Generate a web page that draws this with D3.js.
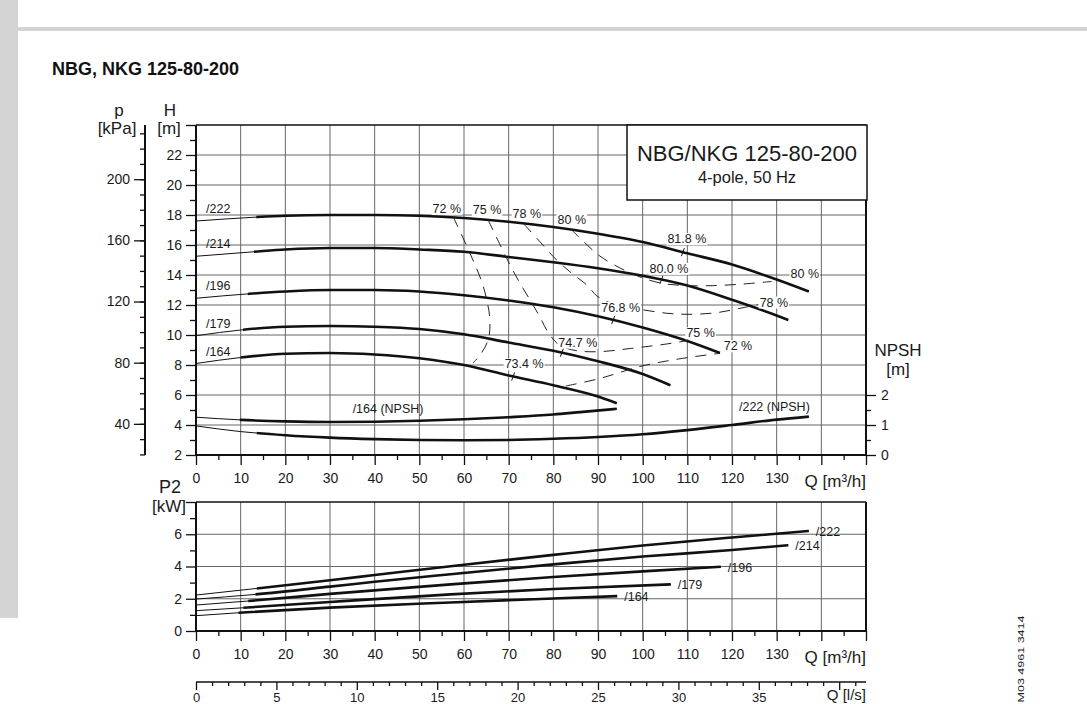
<!DOCTYPE html>
<html>
<head>
<meta charset="utf-8">
<script src="https://cdn.jsdelivr.net/npm/d3@7"></script>
<style>
  body { margin: 0; background: #fff; }
  svg { display: block; font-family: "Liberation Sans", Arial, sans-serif; }
</style>
</head>
<body>
<svg id="chart" width="1087" height="704"></svg>
<script>
// ---- data ----
const impellers = ["/222", "/214", "/196", "/179", "/164"];

// H [m] against Q [m3/h]
const head222 = [[0,17.6],[13,17.85],[20,17.95],[30,18.0],[40,18.0],[50,17.95],[60,17.8],[70,17.55],[80,17.2],[90,16.75],[100,16.2],[110,15.45],[120,14.7],[130,13.7],[137.2,12.9]];
const head214 = [[0,15.25],[13,15.55],[20,15.7],[30,15.8],[40,15.8],[50,15.7],[60,15.55],[70,15.2],[80,14.85],[90,14.45],[100,13.95],[110,13.3],[120,12.35],[130,11.3],[132.6,11.0]];
const head196 = [[0,12.45],[12,12.75],[20,12.9],[30,13.0],[40,13.0],[50,12.9],[60,12.65],[70,12.3],[80,11.85],[90,11.25],[100,10.5],[110,9.6],[117.3,8.8]];
const head179 = [[0,9.95],[10.5,10.35],[20,10.55],[30,10.6],[40,10.55],[50,10.4],[60,10.05],[70,9.5],[80,8.95],[90,8.25],[100,7.4],[106.2,6.65]];
const head164 = [[0,8.1],[10,8.5],[20,8.75],[30,8.8],[40,8.7],[50,8.45],[60,8.0],[70,7.3],[80,6.65],[90,5.9],[94.2,5.45]];
const headThickFrom = [13.5, 13, 11.6, 10.5, 10];

// NPSH [m]
const npshNames = ["/164 (NPSH)", "/222 (NPSH)"];
const npsh164 = [[0,1.26],[10,1.17],[20,1.12],[30,1.10],[40,1.11],[50,1.14],[60,1.19],[70,1.26],[80,1.35],[86,1.43],[94.2,1.54]];
const npsh222 = [[0,0.97],[10,0.78],[20,0.66],[30,0.58],[40,0.53],[50,0.5],[60,0.49],[70,0.5],[80,0.54],[90,0.6],[100,0.69],[110,0.83],[120,1.0],[130,1.18],[137.2,1.28]];
const npshThickFrom = [9.8, 13.6];

// P2 [kW]
const power222 = [[0,2.23],[13.6,2.64],[30,3.15],[40,3.47],[59,4.08],[80,4.72],[100,5.3],[120,5.8],[137.2,6.2]];
const power214 = [[0,1.98],[13.3,2.27],[30,2.75],[40,3.05],[57,3.52],[80,4.13],[100,4.62],[120,5.02],[132.6,5.32]];
const power196 = [[0,1.61],[11.7,1.86],[30,2.3],[57,2.89],[80,3.35],[100,3.7],[117.5,3.98]];
const power179 = [[0,1.26],[10.6,1.44],[30,1.8],[57,2.27],[80,2.6],[106.3,2.89]];
const power164 = [[0,0.95],[9.5,1.13],[30,1.45],[57,1.77],[80,2.02],[94.3,2.16]];
const powerThickFrom = [13.6, 13.3, 11.7, 10.6, 9.5];

// iso-efficiency lines (Q, H)
const eff72a = [[57.6,17.87],[60.0,16.33],[62.1,14.93],[64.0,13.53],[65.1,12.33],[65.8,11.0],[65.4,9.67],[63.6,8.67],[62.0,8.13]];
const eff72b = [[82.8,6.6],[90.4,7.1],[99.4,7.9],[108,8.4],[117.3,8.78]];
const eff75 = [[65.4,17.67],[68.1,16.0],[70.3,14.67],[72.5,13.47],[74.8,12.33],[77.0,11.2],[79.0,10.1],[81.5,9.3],[85.3,8.95],[90.4,8.89],[97.2,9.1],[106.5,9.45],[110.3,9.65]];
const eff78 = [[73.4,17.4],[77.0,16.22],[80.0,15.22],[83.7,14.22],[87.5,13.33],[90.0,12.55],[94.5,11.95],[99.4,11.71],[105.4,11.45],[110.6,11.38],[116.6,11.49],[121.8,11.78],[125.8,12.03]];
const eff80 = [[83.9,17.07],[87.1,16.13],[90.4,15.27],[94.9,14.47],[99.4,13.87],[103.9,13.47],[109.0,13.3],[115.7,13.29],[122.5,13.4],[128.9,13.57]];
const effNames = ["72 %", "72 %", "75 %", "78 %", "80 %"];

// best efficiency marks on each impeller curve
const effTickNames = ["81.8 %", "80.0 %", "76.8 %", "74.7 %", "73.4 %"];
const effTickQ = [109, 104.2, 93.4, 81.9, 71];

// axis ticks
const qTicks = [0,10,20,30,40,50,60,70,80,90,100,110,120,130];
const hTicks = [2,4,6,8,10,12,14,16,18,20,22];
const pTicks = [40,80,120,160,200];
const npshTicks = [0,1,2];
const p2Ticks = [0,2,4,6];
const lsTicks = [0,5,10,15,20,25,30,35];

// ---- layout ----
const svg = d3.select("#chart");
const defs = svg.append("defs");
const ink = "#111";

let x = d3.scaleLinear().domain([0,150]).range([196,866]);
let yH = d3.scaleLinear().domain([2,24]).range([455,125]);
let yN = d3.scaleLinear().domain([0,11]).range([455,125]);
let yPa = d3.scaleLinear().domain([2*9.81, 24*9.81]).range([455,125]);
let yP = d3.scaleLinear().domain([0,8]).range([631,502]);
let xLs = d3.scaleLinear().domain([0,150/3.6]).range([196,866]);

// page frame
svg.append("rect").attr("x",0).attr("y",0).attr("width",18).attr("height",618).attr("fill","#d4d4d4");
svg.append("rect").attr("x",18).attr("y",27).attr("width",1069).attr("height",4).attr("fill","#d4d4d4");

svg.append("text").attr("x",52).attr("y",75)
    .attr("font-size",18).attr("font-weight","bold").attr("fill",ink)
    .text("NBG, NKG 125-80-200");

function txt(g, s, tx, ty, size, anchor) {
  return g.append("text").attr("x",tx).attr("y",ty)
    .attr("font-size",size).attr("text-anchor",anchor || "middle")
    .attr("fill","#1a1a1a").text(s);
}

// label with a white box behind it
function boxed(g, s, tx, ty, anchor) {
  let t = txt(g, s, tx, ty, 12.5, anchor);
  let b = t.node().getBBox();
  g.insert("rect", function(){ return t.node(); })
    .attr("x",b.x-1).attr("y",b.y+1).attr("width",b.width+2).attr("height",b.height-2)
    .attr("fill","#fff");
  return t;
}

function styleAxis(g, size) {
  g.select(".domain").remove();
  g.selectAll("line").attr("stroke",ink).attr("stroke-width",1.3);
  g.selectAll("text").attr("font-size",size || 14).attr("fill","#1a1a1a")
    .attr("font-family","'Liberation Sans', Arial, sans-serif");
}

function grid(g, yS, yVals, y0, y1) {
  g.selectAll(".vg").data(d3.range(10,150,10)).enter().append("line")
    .attr("x1",d => x(d)).attr("x2",d => x(d)).attr("y1",y0).attr("y2",y1)
    .attr("stroke","#666").attr("stroke-width",1);
  g.selectAll(".hg").data(yVals).enter().append("line")
    .attr("x1",x(0)).attr("x2",x(150)).attr("y1",d => yS(d)).attr("y2",d => yS(d))
    .attr("stroke","#666").attr("stroke-width",1);
}

function frame(g, y0, y1) {
  g.append("line").attr("x1",x(0)).attr("x2",x(150)).attr("y1",y0).attr("y2",y0).attr("stroke",ink).attr("stroke-width",1.6);
  g.append("line").attr("x1",x(0)).attr("x2",x(150)).attr("y1",y1).attr("y2",y1).attr("stroke",ink).attr("stroke-width",2);
  g.append("line").attr("x1",x(0)).attr("x2",x(0)).attr("y1",y0).attr("y2",y1).attr("stroke",ink).attr("stroke-width",2);
  g.append("line").attr("x1",x(150)).attr("x2",x(150)).attr("y1",y0).attr("y2",y1).attr("stroke",ink).attr("stroke-width",2);
}

function qAxis(g, y0) {
  let major = g.append("g").attr("transform","translate(0,"+y0+")")
    .call(d3.axisBottom(x).tickValues(d3.range(0,151,10)).tickSize(10)
      .tickFormat(d => qTicks.includes(d) ? d : ""));
  styleAxis(major);
  major.selectAll("text").attr("y",28).attr("dy",0);
  let minor = g.append("g").attr("transform","translate(0,"+y0+")")
    .call(d3.axisBottom(x).tickValues(d3.range(5,150,10)).tickSize(5).tickFormat(""));
  styleAxis(minor);
}

let uid = 0;
function pumpCurve(g, pts, yS, from) {
  let line = d3.line().x(d => x(d[0])).y(d => yS(d[1])).curve(d3.curveMonotoneX);
  g.append("path").attr("d",line(pts)).attr("fill","none").attr("stroke",ink).attr("stroke-width",1);
  let id = "clip" + (uid++);
  defs.append("clipPath").attr("id",id).append("rect")
    .attr("x",x(from)).attr("y",0).attr("width",1087).attr("height",704);
  g.append("path").attr("d",line(pts)).attr("fill","none").attr("stroke",ink)
    .attr("stroke-width",2.6).attr("clip-path","url(#"+id+")");
}

function valueAt(pts, q) {
  return d3.scaleLinear().domain(pts.map(d => d[0])).range(pts.map(d => d[1]))(q);
}

// ---- upper chart: H, p, NPSH ----
let upper = svg.append("g");
grid(upper, yH, d3.range(4,24,2), 125, 455);

let hMajor = upper.append("g").attr("transform","translate(196,0)")
  .call(d3.axisLeft(yH).tickValues(d3.range(2,25,2)).tickSize(10)
    .tickFormat(d => hTicks.includes(d) ? d : ""));
styleAxis(hMajor);
hMajor.selectAll("text").attr("x",-14);
styleAxis(upper.append("g").attr("transform","translate(196,0)")
  .call(d3.axisLeft(yH).tickValues(d3.range(3,24,2)).tickSize(6).tickFormat("")));

let pMajor = upper.append("g").attr("transform","translate(145,0)")
  .call(d3.axisLeft(yPa).tickValues(pTicks).tickSize(11));
styleAxis(pMajor);
pMajor.selectAll("text").attr("x",-15);
styleAxis(upper.append("g").attr("transform","translate(145,0)")
  .call(d3.axisLeft(yPa).tickValues(d3.range(20,231,10)).tickSize(5).tickFormat("")));
upper.append("line").attr("x1",145).attr("x2",145).attr("y1",125).attr("y2",455).attr("stroke",ink).attr("stroke-width",2);

let nMajor = upper.append("g").attr("transform","translate(866,0)")
  .call(d3.axisRight(yN).tickValues(npshTicks).tickSize(10));
styleAxis(nMajor);
nMajor.selectAll("text").attr("x",15);
styleAxis(upper.append("g").attr("transform","translate(866,0)")
  .call(d3.axisRight(yN).tickValues([0.5,1.5]).tickSize(5).tickFormat("")));

qAxis(upper, 455);
frame(upper, 125, 455);

txt(upper, "p", 119, 116, 17);
txt(upper, "[kPa]", 117, 134, 17);
txt(upper, "H", 170, 116, 17);
txt(upper, "[m]", 169, 134, 17);
txt(upper, "NPSH", 898, 356, 17);
txt(upper, "[m]", 898, 375, 17);
txt(upper, "Q [m\u00b3/h]", 866, 487, 17, "end");

// header box
upper.append("rect").attr("x",627).attr("y",125).attr("width",240).attr("height",75)
  .attr("fill","#fff").attr("stroke",ink).attr("stroke-width",1.5);
txt(upper, "NBG/NKG 125-80-200", 747, 161, 22);
txt(upper, "4-pole, 50 Hz", 747, 183, 16.5);

// impeller curves
const headCurves = [head222, head214, head196, head179, head164];
headCurves.forEach((pts, i) => {
  pumpCurve(upper, pts, yH, headThickFrom[i]);
  txt(upper, impellers[i], x(0)+10, yH(pts[0][1]) - 8, 12.5, "start");
});

// NPSH curves
[npsh164, npsh222].forEach((pts, i) => pumpCurve(upper, pts, yN, npshThickFrom[i]));
txt(upper, npshNames[0], x(43), yN(valueAt(npsh164, 43)) - 8, 12.5);
let n222End = npsh222[npsh222.length-1];
txt(upper, npshNames[1], x(n222End[0]) + 1, yN(n222End[1]) - 6, 12.5, "end");

// iso-efficiency lines
const effCurves = [eff72a, eff72b, eff75, eff78, eff80];
let effLine = d3.line().x(d => x(d[0])).y(d => yH(d[1])).curve(d3.curveCatmullRom.alpha(0.5));
effCurves.forEach(pts => {
  upper.append("path").attr("d",effLine(pts)).attr("fill","none")
    .attr("stroke","#222").attr("stroke-width",1).attr("stroke-dasharray","11,8");
});

// labels at start / end of the dashed lines: [curve index, at end?, dx, dy]
const effLabelAt = [[0,false,-6.5,-4],[2,false,-1,-6],[3,false,3,-6],[4,false,1,-5],
                    [1,true,18,-3],[2,true,12,-3],[3,true,16,2],[4,true,33,-3.5]];
effLabelAt.forEach(a => {
  let pts = effCurves[a[0]];
  let p = a[1] ? pts[pts.length-1] : pts[0];
  boxed(upper, effNames[a[0]], x(p[0]) + a[2], yH(p[1]) + a[3]);
});

// efficiency marks on the impeller curves
const effTickDx = [4, 7.5, 7.5, 16, 11];
const effTickDy = [-9, -7, -8, -6, -8];
effTickQ.forEach((q, i) => {
  let px = x(q), py = yH(valueAt(headCurves[i], q));
  boxed(upper, effTickNames[i], px + effTickDx[i], py + effTickDy[i]);
  upper.append("line").attr("x1",px-1.5).attr("y1",py+4).attr("x2",px+1.5).attr("y2",py-4)
    .attr("stroke",ink).attr("stroke-width",1);
});

// ---- lower chart: P2 ----
let lower = svg.append("g");
grid(lower, yP, [2,4,6], 502, 631);
let p2Major = lower.append("g").attr("transform","translate(196,0)")
  .call(d3.axisLeft(yP).tickValues([0,2,4,6,8]).tickSize(10)
    .tickFormat(d => p2Ticks.includes(d) ? d : ""));
styleAxis(p2Major);
p2Major.selectAll("text").attr("x",-14);
styleAxis(lower.append("g").attr("transform","translate(196,0)")
  .call(d3.axisLeft(yP).tickValues([1,3,5,7]).tickSize(6).tickFormat("")));
qAxis(lower, 631);
frame(lower, 502, 631);
txt(lower, "P2", 170, 493, 18);
txt(lower, "[kW]", 169, 512, 17);
txt(lower, "Q [m\u00b3/h]", 866, 663, 17, "end");

const powerCurves = [power222, power214, power196, power179, power164];
powerCurves.forEach((pts, i) => {
  pumpCurve(lower, pts, yP, powerThickFrom[i]);
  let e = pts[pts.length-1];
  txt(lower, impellers[i], x(e[0]) + 7, yP(e[1]) + 5, 12.5, "start");
});

// ---- l/s scale (its labels sit right at the lower page edge) ----
let lsG = svg.append("g");
let lsMajor = lsG.append("g").attr("transform","translate(0,682)")
  .call(d3.axisBottom(xLs).tickValues(d3.range(0,41,5)).tickSize(8)
    .tickFormat(d => lsTicks.includes(d) ? d : ""));
styleAxis(lsMajor, 13);
lsMajor.selectAll("text").attr("y",20).attr("dy",0);
styleAxis(lsG.append("g").attr("transform","translate(0,682)")
  .call(d3.axisBottom(xLs).tickValues(d3.range(1,42,1).filter(d => d % 5)).tickSize(4).tickFormat("")));
lsG.append("line").attr("x1",196).attr("x2",866).attr("y1",682).attr("y2",682).attr("stroke",ink).attr("stroke-width",1.6);
txt(lsG, "Q [l/s]", 866, 700, 15, "end");

// drawing number
svg.append("text").attr("transform","translate(1024,659) rotate(-90)")
  .attr("font-size",8.5).attr("text-anchor","middle").attr("fill","#222")
  .attr("textLength",87).attr("lengthAdjust","spacingAndGlyphs")
  .text("M03 4961 3414");
</script>
</body>
</html>
